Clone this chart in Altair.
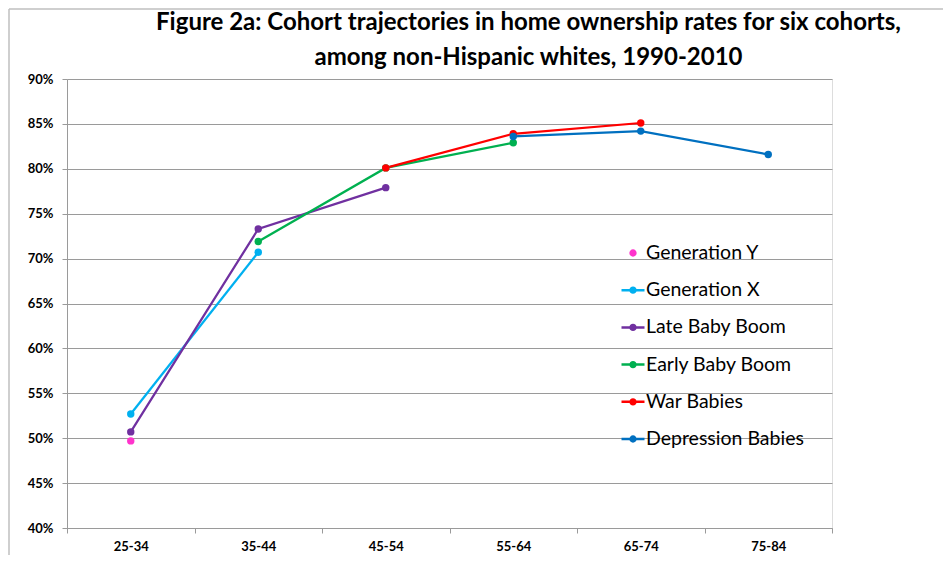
import altair as alt
import pandas as pd

ages = ["25-34", "35-44", "45-54", "55-64", "65-74", "75-84"]
cohorts = ["Generation Y", "Generation X", "Late Baby Boom",
           "Early Baby Boom", "War Babies", "Depression Babies"]
colors = ["#FF33CC", "#00B0F0", "#7030A0", "#00B050", "#FF0000", "#0070C0"]

gen_y = [49.7, None, None, None, None, None]
gen_x = [52.7, 70.7, None, None, None, None]
late_boom = [50.7, 73.3, 77.9, None, None, None]
early_boom = [None, 71.9, 80.1, 82.9, None, None]
war_babies = [None, None, 80.1, 83.9, 85.1, None]
depression = [None, None, None, 83.6, 84.2, 81.6]

y_ticks = [40, 45, 50, 55, 60, 65, 70, 75, 80, 85, 90]

series = [gen_y, gen_x, late_boom, early_boom, war_babies, depression]
rows = []
for name, vals in zip(cohorts, series):
    for age, v in zip(ages, vals):
        if v is not None:
            rows.append({"Age": age, "Cohort": name, "Rate": v})
df = pd.DataFrame(rows)

FONT = "Lato"
GRID = "#9a9a9a"

rings = ("M0.05,0A0.05,0.05,0,1,1,-0.05,0A0.05,0.05,0,1,1,0.05,0Z"
         "M0.13,0A0.13,0.13,0,1,1,-0.13,0A0.13,0.13,0,1,1,0.13,0Z"
         "M0.21,0A0.21,0.21,0,1,1,-0.21,0A0.21,0.21,0,1,1,0.21,0Z")
dot_path = rings
line_path = "M-1,0L1,0" + rings
shapes = [dot_path] + [line_path] * 5

color_scale = alt.Scale(domain=cohorts, range=colors)
x_enc = alt.X("Age:N", sort=ages,
              scale=alt.Scale(type="band", domain=ages, paddingInner=0, paddingOuter=0),
              axis=alt.Axis(title=None, tickBand="extent", labelFont=FONT, labelFontSize=13,
                            labelFontWeight="bold", labelColor="#000", labelPadding=7,
                            tickSize=5, tickColor=GRID, domainColor=GRID, grid=False,
                            labelAngle=0))
y_enc = alt.Y("Rate:Q", scale=alt.Scale(domain=[40, 90], nice=False, zero=False),
              axis=alt.Axis(title=None, values=y_ticks, labelExpr="datum.value + '%'",
                            labelFont=FONT, labelFontSize=13, labelFontWeight="bold",
                            labelColor="#000", labelPadding=9, tickSize=5, tickColor=GRID,
                            domainColor=GRID, gridColor=GRID, gridWidth=1))

legend = alt.Legend(
    title=None, orient="none", legendX=553, legendY=161,
    labelFont=FONT, labelFontSize=19.5, labelColor="#000", labelOffset=0,
    symbolSize=529, symbolStrokeWidth=2.5, rowPadding=14.2,
)
color_enc = alt.Color("Cohort:N", scale=color_scale, sort=cohorts, legend=legend)

one = pd.DataFrame({"k": [1]})
frame_top = alt.Chart(one).mark_rule(stroke="#BFBFBF", strokeWidth=1.5).encode(
    x=alt.value(-58), x2=alt.value(3000), y=alt.value(-70))
frame_left = alt.Chart(one).mark_rule(stroke="#BFBFBF", strokeWidth=1.5).encode(
    x=alt.value(-58), y=alt.value(-70), y2=alt.value(3000))

lines = alt.Chart(df).mark_line(strokeWidth=2.25).encode(
    x=x_enc, y=y_enc, color=color_enc, detail="Cohort:N",
)
points = alt.Chart(df).mark_point(filled=True, size=55, opacity=1, shape="circle").encode(
    x=x_enc, y=y_enc, color=color_enc,
)
legend_layer = alt.Chart(df).transform_filter("false").mark_point(
    filled=False, size=529, strokeWidth=2.5
).encode(
    x=x_enc, y=y_enc, color=color_enc,
    shape=alt.Shape("Cohort:N", scale=alt.Scale(domain=cohorts, range=shapes),
                    sort=cohorts, legend=legend),
)

chart = alt.layer(frame_top, frame_left, lines, points, legend_layer).properties(
    width=765, height=449,
    title=alt.TitleParams(
        text=["Figure 2a: Cohort trajectories in home ownership rates for six cohorts,",
              "among non-Hispanic whites, 1990-2010"],
        font=FONT, fontSize=24, fontWeight="bold", color="#000",
        anchor="middle", dx=79, lineHeight=35, offset=-62,
    ),
    padding={"left": 59, "top": 71, "right": 111, "bottom": 27},
    autosize=alt.AutoSizeParams(type="none"),
).configure_view(stroke=None).configure(background="white")

chart.save("out.html", embed_options={"renderer": "svg", "actions": False})
